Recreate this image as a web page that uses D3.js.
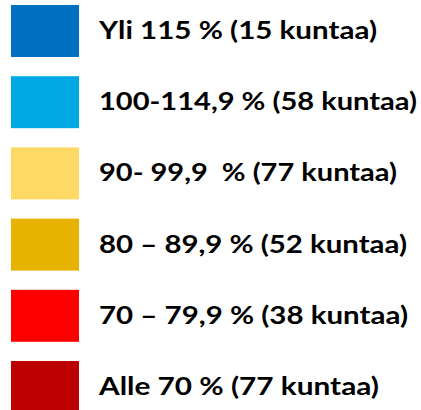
<!DOCTYPE html>
<html>
<head>
<meta charset="utf-8">
<script src="https://d3js.org/d3.v7.min.js"></script>
<style>
  html, body { margin: 0; padding: 0; background: #fff; }
  svg { display: block; }
</style>
</head>
<body>
<div id="chart"></div>
<script>
// legend classes, top to bottom
var classes = ['Yli 115 %', '100-114,9 %', '90- 99,9  %', '80 \u2013 89,9 %', '70 \u2013 79,9 %', 'Alle 70 %'];
var counts = [15, 58, 77, 52, 38, 77];
var colors = ['#0070C0', '#00A9E4', '#FFD966', '#E8B200', '#FF0000', '#BC0000'];
// approximate rendered widths of each label in the original
var labelWidths = [278, 318, 298, 308, 309, 280];

var width = 421, height = 410;

var dataSet = classes.map(function(c, i){
	return {name: c + ' (' + counts[i] + ' kuntaa)', color: colors[i], w: labelWidths[i]};
});

var svg = d3.select('#chart').append('svg')
	.attr('width', width)
	.attr('height', height);

var y = d3.scaleBand()
	.domain(d3.range(dataSet.length))
	.range([5, 413])
	.paddingInner(0.27)
	.paddingOuter(0);

var g = svg.selectAll('g.item')
	.data(dataSet)
	.enter()
	.append('g')
	.attr('class', 'item')
	.attr('transform', (d,i)=>'translate(0,' + y(i) + ')');

g.append('rect')
	.attr('x', 11)
	.attr('width', 68)
	.attr('height', y.bandwidth())
	.attr('fill', d=>d.color);

g.append('text')
	.attr('x', 99)
	.attr('y', y.bandwidth()/2 + 8)
	.attr('textLength', d=>d.w)
	.attr('lengthAdjust', 'spacingAndGlyphs')
	.style('font-family', 'Lato, "Open Sans", sans-serif')
	.style('font-weight', 'bold')
	.style('font-size', '25px')
	.style('white-space', 'pre')
	.style('fill', '#000')
	.text(d=>d.name);
</script>
</body>
</html>
